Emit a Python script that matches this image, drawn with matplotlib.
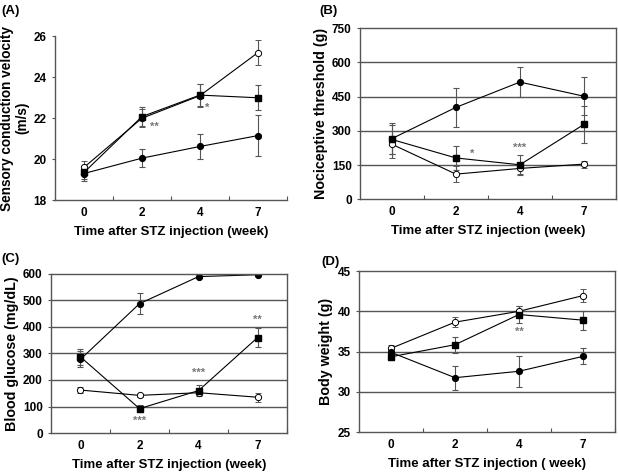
import numpy as np
import matplotlib
matplotlib.use("Agg")
import matplotlib.pyplot as plt

plt.rcParams['font.family'] = ['Liberation Sans', 'DejaVu Sans']
plt.rcParams['font.weight'] = 'bold'

weeks = ['0', '2', '4', '7']

# (A) sensory conduction velocity
a_open = [19.6, 22.0, 23.1, 25.2]
a_open_err = [0.3, 0.45, 0.55, 0.62]
a_sq = [19.35, 22.08, 23.13, 23.0]
a_sq_err = [0.3, 0.45, 0.55, 0.62]
a_fill = [19.3, 20.05, 20.62, 21.15]
a_fill_err = [0.35, 0.45, 0.6, 1.0]

# (B) nociceptive threshold
b_open = [241, 110, 135, 154]
b_open_err = [60, 35, 25, 15]
b_sq = [262, 181, 151, 328]
b_sq_err = [65, 53, 45, 80]
b_fill = [266, 403, 514, 452]
b_fill_err = [68, 84, 65, 84]

# (C) blood glucose
c_open = [162, 142, 152, 135]
c_open_err = [10, 6, 10, 17]
c_sq = [287, 92, 160, 360]
c_sq_err = [30, 13, 22, 35]
c_fill = [278, 488, 590, 597]
c_fill_err = [30, 40, 5, 3]

# (D) body weight
d_open = [35.4, 38.65, 40.0, 41.95]
d_open_err = [0.45, 0.6, 0.6, 0.8]
d_sq = [34.35, 35.85, 39.6, 38.9]
d_sq_err = [0.4, 1.0, 1.0, 1.2]
d_fill = [34.9, 31.75, 32.55, 34.4]
d_fill_err = [0.3, 1.5, 1.9, 1.0]

fig = plt.figure(figsize=(6.18, 4.72), dpi=100)

def panel(rect, o, oe, s, se, f, fe, ylim, yticks, ylabel, xlabel, grid, frame, ylsize=10.3):
    ax = fig.add_axes(rect)
    x = np.arange(len(weeks))
    ekw = dict(ecolor='#555555', elinewidth=0.8, capsize=2.2, capthick=0.8, color='black', lw=0.8)
    ax.errorbar(x, o, yerr=oe, marker='o', ms=4.5, mfc='white', mec='black', mew=0.7, **ekw)
    ax.errorbar(x, f, yerr=fe, marker='o', ms=4.2, mfc='black', mec='black', **ekw)
    ax.errorbar(x, s, yerr=se, marker='s', ms=4.2, mfc='black', mec='black', **ekw)
    ax.set_xlim(-0.5, 3.5)
    ax.set_ylim(*ylim)
    ax.set_yticks(yticks)
    ax.set_xticks([0.5, 1.5, 2.5, 3.5])
    ax.set_xticks(x, minor=True)
    ax.set_xticklabels([], minor=False)
    ax.set_xticklabels(weeks, minor=True, fontsize=8.5, fontweight='bold')
    ax.tick_params(axis='x', which='major', direction='in', length=3, color='#555555')
    ax.tick_params(axis='x', which='minor', length=0, pad=5)
    ax.tick_params(axis='y', labelsize=8.5, length=2, color='#555555', pad=4)
    for t in ax.get_yticklabels():
        t.set_fontweight('bold')
    ax.set_ylabel(ylabel, fontsize=ylsize, fontweight='bold', labelpad=3, linespacing=1.1)
    ax.set_xlabel(xlabel, fontsize=9.5, fontweight='bold', labelpad=5)
    if grid:
        for g in grid:
            ax.axhline(g, color='#555555', lw=1.0, zorder=0)
    for sp in ax.spines.values():
        sp.set_color('#555555')
        sp.set_linewidth(1.0)
    if not frame:
        ax.spines['top'].set_visible(False)
        ax.spines['right'].set_visible(False)
    return ax

axA = panel([0.089, 0.576, 0.375, 0.347], a_open, a_open_err, a_sq, a_sq_err, a_fill, a_fill_err,
            (18, 26), [18, 20, 22, 24, 26], 'Sensory conduction velocity\n(m/s)',
            'Time after STZ injection (week)', None, False, ylsize=9.8)
axB = panel([0.5825, 0.578, 0.414, 0.362], b_open, b_open_err, b_sq, b_sq_err, b_fill, b_fill_err,
            (0, 750), [0, 150, 300, 450, 600, 750], 'Nociceptive threshold (g)',
            'Time after STZ injection (week)', [150, 300, 450, 600], True)
axC = panel([0.0825, 0.0826, 0.382, 0.337], c_open, c_open_err, c_sq, c_sq_err, c_fill, c_fill_err,
            (0, 600), [0, 100, 200, 300, 400, 500, 600], 'Blood glucose (mg/dL)',
            'Time after STZ injection (week)', [100, 200, 300, 400, 500], True)
axD = panel([0.581, 0.0847, 0.414, 0.341], d_open, d_open_err, d_sq, d_sq_err, d_fill, d_fill_err,
            (25, 45), [25, 30, 35, 40, 45], 'Body weight (g)',
            'Time after STZ injection ( week)', [30, 35, 40], True)

star = dict(color='#777777', fontsize=8, ha='center', va='center')
axA.text(1.22, 21.6, '**', **star)
axA.text(2.12, 22.5, '*', **star)
axB.text(1.25, 200, '*', **star)
axB.text(2.0, 225, '***', **star)
axC.text(3.0, 428, '**', **star)
axC.text(2.0, 228, '***', **star)
axC.text(1.0, 45, '***', **star)
axD.text(2.0, 37.5, '**', **star)

for lbl, xx, yy in [('(A)', 0.003, 0.99), ('(B)', 0.517, 0.99), ('(C)', 0.003, 0.463), ('(D)', 0.52, 0.457)]:
    fig.text(xx, yy, lbl, fontsize=9.5, fontweight='bold', va='top')

fig.savefig('out.png', dpi=100)
